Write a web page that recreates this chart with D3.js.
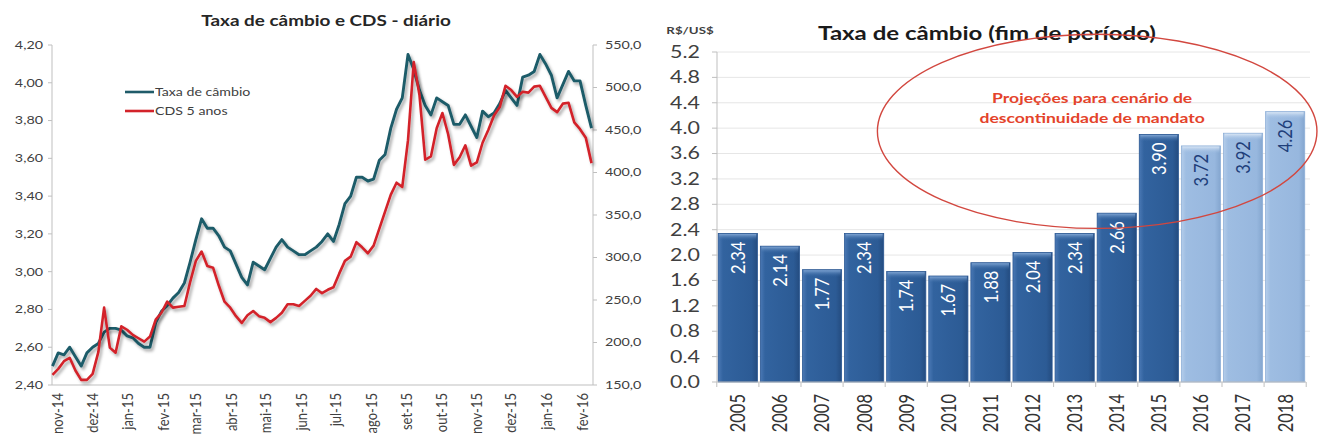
<!DOCTYPE html>
<html>
<head>
<meta charset="utf-8">
<script src="https://cdn.jsdelivr.net/npm/d3@7"></script>
<style>
  body { margin: 0; background: #fff; }
  svg { display: block; }
</style>
</head>
<body>
<script>
// ---- left chart: daily series, read every 5 days from 27 Oct 2014
const startDate = new Date(2014, 9, 27);
const stepDays = 5;

const cambio = [2.50, 2.57, 2.56, 2.60, 2.55, 2.50, 2.57, 2.60, 2.62, 2.68,
  2.70, 2.70, 2.69, 2.66, 2.65, 2.62, 2.60, 2.60, 2.73, 2.79,
  2.82, 2.86, 2.89, 2.94, 3.05, 3.17, 3.28, 3.23, 3.23, 3.19,
  3.13, 3.11, 3.04, 2.97, 2.93, 3.05, 3.03, 3.01, 3.07, 3.13,
  3.17, 3.13, 3.11, 3.09, 3.09, 3.11, 3.13, 3.16, 3.20, 3.16,
  3.25, 3.36, 3.40, 3.50, 3.50, 3.48, 3.49, 3.59, 3.62, 3.76,
  3.86, 3.92, 4.15, 4.07, 3.96, 3.88, 3.83, 3.92, 3.90, 3.88,
  3.78, 3.78, 3.83, 3.77, 3.71, 3.85, 3.82, 3.84, 3.89, 3.96,
  3.92, 3.88, 4.03, 4.04, 4.06, 4.15, 4.10, 4.04, 3.92, 3.99,
  4.06, 4.01, 4.01, 3.88, 3.76];

const cds = [162, 169, 178, 182, 167, 156, 156, 163, 189, 241,
  194, 188, 219, 215, 209, 205, 201, 207, 227, 235,
  248, 241, 242, 243, 271, 296, 307, 290, 288, 267,
  248, 241, 231, 223, 232, 237, 231, 229, 224, 229,
  235, 245, 245, 243, 249, 255, 263, 258, 262, 265,
  281, 296, 301, 318, 312, 305, 314, 334, 354, 374,
  388, 383, 438, 530, 491, 415, 419, 452, 470, 445,
  409, 418, 432, 408, 412, 435, 450, 467, 477, 502,
  497, 489, 495, 494, 501, 502, 489, 476, 471, 481,
  482, 459, 451, 441, 411];

const cambioTicks = [2.4, 2.6, 2.8, 3.0, 3.2, 3.4, 3.6, 3.8, 4.0, 4.2];
const cdsTicks = [150, 200, 250, 300, 350, 400, 450, 500, 550];
const monthLabels = ["nov-14", "dez-14", "jan-15", "fev-15", "mar-15", "abr-15",
  "mai-15", "jun-15", "jul-15", "ago-15", "set-15", "out-15",
  "nov-15", "dez-15", "jan-16", "fev-16"];

// ---- right chart: end-of-period exchange rate
const years = ["2005", "2006", "2007", "2008", "2009", "2010", "2011",
  "2012", "2013", "2014", "2015", "2016", "2017", "2018"];
const taxa = [2.34, 2.14, 1.77, 2.34, 1.74, 1.67, 1.88, 2.04, 2.34, 2.66,
  3.90, 3.72, 3.92, 4.26];
const firstProjection = "2016";
const taxaTicks = [0, 0.4, 0.8, 1.2, 1.6, 2.0, 2.4, 2.8, 3.2, 3.6, 4.0, 4.4, 4.8, 5.2];

const dates = cambio.map((d, i) => d3.timeDay.offset(startDate, i * stepDays));
const months = monthLabels.map((d, i) => new Date(2014, 10 + i, 1));

const W = 1322, H = 441;
const svg = d3.select("body").append("svg")
    .attr("width", W).attr("height", H)
    .style("font-family", "Lato, 'Open Sans', sans-serif");

const defs = svg.append("defs");
const sh = defs.append("filter").attr("id", "shadow")
    .attr("x", "-5%").attr("y", "-5%").attr("width", "110%").attr("height", "110%");
sh.append("feDropShadow").attr("dx", 2).attr("dy", 2.5)
    .attr("stdDeviation", 1.6).attr("flood-color", "#000").attr("flood-opacity", 0.35);

function grad(id, stops, vertical) {
  const g = defs.append("linearGradient").attr("id", id)
      .attr("x1", 0).attr("y1", 0)
      .attr("x2", vertical ? 0 : 1).attr("y2", vertical ? 1 : 0);
  stops.forEach(s => g.append("stop").attr("offset", s[0])
      .attr("stop-color", s[1]).attr("stop-opacity", s[2] == null ? 1 : s[2]));
}
grad("barDark", [[0, "#4a78b4"], [0.12, "#32639f"], [0.85, "#2c5b95"], [1, "#244c80"]]);
grad("barLight", [[0, "#b4cdea"], [0.12, "#9ebde2"], [0.85, "#97b7de"], [1, "#84a6cf"]]);
grad("capDark", [[0, "#7da3d2"], [1, "#32639f", 0]], true);
grad("capLight", [[0, "#d9e6f5"], [1, "#9ebde2", 0]], true);

// stretched text helper (the source image is wide)
function put(sel, x, y, sx, rot) {
  return sel.attr("transform",
    `translate(${x},${y}) scale(${sx},1)` + (rot ? ` rotate(${rot})` : ""));
}
const comma = f => v => d3.format(f)(v).replace(".", ",");

// ===================== LEFT CHART =====================
const L = { left: 52, right: 593, top: 45, bottom: 385 };
const x = d3.scaleTime()
    .domain([startDate, dates[dates.length - 1]])
    .range([L.left + 0.5, L.right - 1.5]);
const yL = d3.scaleLinear().domain([2.4, 4.2]).range([L.bottom, L.top]);
const yR = d3.scaleLinear().domain([150, 550]).range([L.bottom, L.top]);

const left = svg.append("g").attr("font-size", 11).attr("fill", "#404040");

const axisCol = "#bfbfbf";
left.append("line").attr("x1", L.left).attr("x2", L.left)
    .attr("y1", L.top).attr("y2", L.bottom).attr("stroke", axisCol);
left.append("line").attr("x1", L.right).attr("x2", L.right)
    .attr("y1", L.top).attr("y2", L.bottom).attr("stroke", axisCol);
left.append("line").attr("x1", L.left).attr("x2", L.right)
    .attr("y1", L.bottom).attr("y2", L.bottom).attr("stroke", axisCol);

left.selectAll(".tl").data(cambioTicks).join("line")
    .attr("x1", L.left - 4).attr("x2", L.left)
    .attr("y1", d => yL(d)).attr("y2", d => yL(d)).attr("stroke", axisCol);
left.selectAll(".tlt").data(cambioTicks).join("text")
    .attr("text-anchor", "end").attr("dy", "0.35em")
    .text(comma(".2f"))
    .each(function (d) { put(d3.select(this), L.left - 9, yL(d), 1.3); });

left.selectAll(".tr").data(cdsTicks).join("line")
    .attr("x1", L.right).attr("x2", L.right + 4)
    .attr("y1", d => yR(d)).attr("y2", d => yR(d)).attr("stroke", axisCol);
left.selectAll(".trt").data(cdsTicks).join("text")
    .attr("dy", "0.35em")
    .text(comma(".1f"))
    .each(function (d) { put(d3.select(this), L.right + 12, yR(d), 1.3); });

left.selectAll(".mt").data(months).join("text")
    .attr("text-anchor", "end").attr("dy", "0.35em")
    .attr("font-size", 13)
    .text((d, i) => monthLabels[i])
    .each(function (d) { put(d3.select(this), x(d), L.bottom + 8, 1.15, -90); });

const lineCambio = d3.line().x((d, i) => x(dates[i])).y(d => yL(d));
const lineCds = d3.line().x((d, i) => x(dates[i])).y(d => yR(d));

const teal = "#1f5b69", red = "#d3232a";
left.append("path").datum(cambio).attr("d", lineCambio)
    .attr("fill", "none").attr("stroke", teal).attr("stroke-width", 2.9)
    .attr("stroke-linejoin", "round").attr("filter", "url(#shadow)");
left.append("path").datum(cds).attr("d", lineCds)
    .attr("fill", "none").attr("stroke", red).attr("stroke-width", 2.6)
    .attr("stroke-linejoin", "round").attr("filter", "url(#shadow)");

put(left.append("text").attr("text-anchor", "middle")
    .attr("font-size", 15.5).attr("font-weight", 700).attr("fill", "#262626")
    .text("Taxa de câmbio e CDS - diário"), 326, 26, 1.22);

const legend = [["Taxa de câmbio", teal], ["CDS 5 anos", red]];
legend.forEach((d, i) => {
  const ly = 92 + i * 19;
  left.append("line").attr("x1", 125).attr("x2", 154).attr("y1", ly).attr("y2", ly)
      .attr("stroke", d[1]).attr("stroke-width", 2.6);
  put(left.append("text").attr("dy", "0.35em").attr("font-size", 10.5).text(d[0]),
      155, ly, 1.35);
});

// ===================== RIGHT CHART =====================
const R = { left: 717, right: 1306, top: 52, bottom: 382 };
const xB = d3.scaleBand().domain(years).range([R.left, R.right])
    .paddingInner(0.07).paddingOuter(0.03);
const yB = d3.scaleLinear().domain([0, 5.2]).range([R.bottom, R.top]);

const right = svg.append("g").attr("fill", "#404040");

right.selectAll(".grid").data(taxaTicks.slice(1)).join("line")
    .attr("x1", R.left).attr("x2", R.right + 4)
    .attr("y1", d => yB(d)).attr("y2", d => yB(d))
    .attr("stroke", "#e6e6e6");
right.append("line").attr("x1", R.left).attr("x2", R.left)
    .attr("y1", R.top).attr("y2", R.bottom).attr("stroke", axisCol);
right.selectAll(".yt").data(taxaTicks).join("line")
    .attr("x1", R.left - 5).attr("x2", R.left)
    .attr("y1", d => yB(d)).attr("y2", d => yB(d)).attr("stroke", axisCol);
right.selectAll(".ytt").data(taxaTicks).join("text")
    .attr("text-anchor", "end").attr("dy", "0.36em").attr("font-size", 16.5)
    .text(d => d3.format(".1f")(d))
    .each(function (d) { put(d3.select(this), R.left - 17, yB(d), 1.3); });

const isProj = y => +y >= +firstProjection;
const bw = xB.bandwidth();
const bars = right.selectAll(".bar").data(years).join("g");
bars.append("rect")
    .attr("x", d => xB(d)).attr("width", bw)
    .attr("y", (d, i) => yB(taxa[i])).attr("height", (d, i) => yB(0) - yB(taxa[i]))
    .attr("fill", d => isProj(d) ? "url(#barLight)" : "url(#barDark)")
    .attr("stroke", d => isProj(d) ? "#8fb0d8" : "#2a5793").attr("stroke-width", 0.8);
bars.append("rect")
    .attr("x", d => xB(d) + 1).attr("width", bw - 2)
    .attr("y", (d, i) => yB(taxa[i]) + 0.5).attr("height", 7)
    .attr("fill", d => isProj(d) ? "url(#capLight)" : "url(#capDark)");
bars.append("text")
    .attr("text-anchor", "end").attr("dy", "0.36em").attr("font-size", 16.5)
    .attr("fill", d => isProj(d) ? "#1f3f7a" : "#ffffff")
    .text((d, i) => taxa[i].toFixed(2))
    .each(function (d, i) { put(d3.select(this), xB(d) + bw / 2, yB(taxa[i]) + 8, 1.2, -90); });

right.append("line").attr("x1", R.left).attr("x2", R.right)
    .attr("y1", R.bottom).attr("y2", R.bottom).attr("stroke", axisCol);
right.selectAll(".xt").data(years.concat(["end"])).join("line")
    .attr("x1", (d, i) => R.left + i * xB.step() + xB.step() * xB.paddingOuter() - xB.step() * xB.paddingInner() / 2)
    .attr("x2", (d, i) => R.left + i * xB.step() + xB.step() * xB.paddingOuter() - xB.step() * xB.paddingInner() / 2)
    .attr("y1", R.bottom).attr("y2", R.bottom + 5).attr("stroke", axisCol);
right.selectAll(".xl").data(years).join("text")
    .attr("text-anchor", "end").attr("dy", "0.36em").attr("font-size", 16.5)
    .attr("fill", "#333")
    .text(d => d)
    .each(function (d) { put(d3.select(this), xB(d) + bw / 2, R.bottom + 12, 1.25, -90); });

put(right.append("text").attr("text-anchor", "middle")
    .attr("font-size", 18.5).attr("font-weight", 700).attr("fill", "#1a1a1a")
    .text("Taxa de câmbio (fim de período)"), 987, 40, 1.3);
put(right.append("text").attr("text-anchor", "middle")
    .attr("font-size", 9.5).attr("font-weight", 700).attr("fill", "#404040")
    .text("R$/US$"), 690, 34, 1.4);

// projection ellipse annotation
const ecx = xB("2014"), ecy = yB(3.95);
right.append("ellipse")
    .attr("cx", ecx).attr("cy", ecy)
    .attr("rx", xB.step() * 5.22).attr("ry", yB(0) - yB(1.53))
    .attr("fill", "none").attr("stroke", "#d2473f").attr("stroke-width", 1.4);
const note = ["Projeções para cenário de", "descontinuidade de mandato"];
note.forEach((t, i) => {
  put(right.append("text").attr("text-anchor", "middle")
      .attr("font-size", 13.5).attr("font-weight", 700).attr("fill", "#e4432b")
      .text(t), ecx - 5, yB(4.4) + i * 20, 1.3);
});
</script>
</body>
</html>
